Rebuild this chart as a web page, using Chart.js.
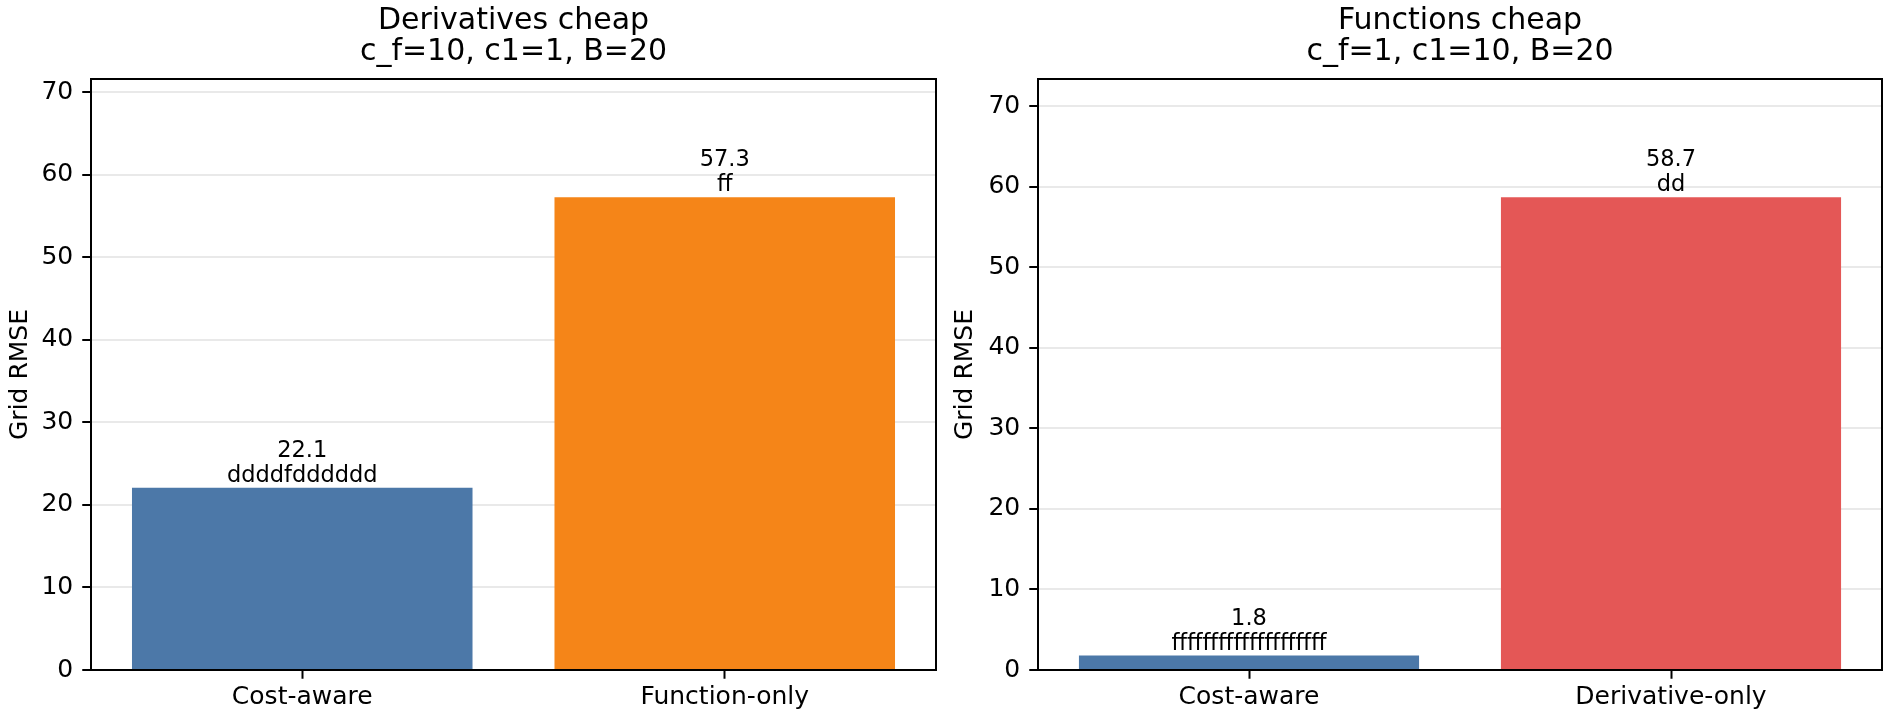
<!DOCTYPE html>
<html>
<head>
<meta charset="utf-8">
<script src="https://cdn.jsdelivr.net/npm/chart.js@4.4.1/dist/chart.umd.min.js"></script>
<style>
  html, body { margin: 0; padding: 0; background: #fff; }
  .box { position: absolute; top: 0; width: 945px; height: 720px; }
</style>
</head>
<body>
<div class="box" style="left:0"><canvas id="chartLeft"></canvas></div>
<div class="box" style="left:945px"><canvas id="chartRight"></canvas></div>
<script>
// Dados dos dois painéis
const leftCats = ['Cost-aware', 'Function-only'];
const leftVals = [22.1, 57.3];
const leftTags = ['ddddfdddddd', 'ff'];
const leftColors = ['#4c78a8', '#f58518'];
const leftTitle = ['Derivatives cheap', 'c_f=10, c1=1, B=20'];

const rightCats = ['Cost-aware', 'Derivative-only'];
const rightVals = [1.8, 58.7];
const rightTags = ['ffffffffffffffffffff', 'dd'];
const rightColors = ['#4c78a8', '#e45756'];
const rightTitle = ['Functions cheap', 'c_f=1, c1=10, B=20'];

Chart.defaults.font.family = '"DejaVu Sans", sans-serif';
Chart.defaults.color = '#000';

// Rótulos acima das barras (valor + sequência)
const barLabels = {
  id: 'barLabels',
  afterDatasetsDraw(chart, args, opts) {
    const ctx = chart.ctx;
    const meta = chart.getDatasetMeta(0);
    ctx.save();
    ctx.font = '22.5px "DejaVu Sans"';
    ctx.fillStyle = '#000';
    ctx.textAlign = 'center';
    ctx.textBaseline = 'alphabetic';
    meta.data.forEach((bar, i) => {
      const v = chart.data.datasets[0].data[i];
      ctx.fillText(v.toFixed(1), bar.x, bar.y - 31);
      ctx.fillText(opts.tags[i], bar.x, bar.y - 6);
    });
    ctx.restore();
  }
};

// Moldura do eixo (spines)
const frame = {
  id: 'frame',
  afterDraw(chart) {
    const a = chart.chartArea;
    const ctx = chart.ctx;
    ctx.save();
    ctx.strokeStyle = '#000';
    ctx.lineWidth = 2;
    ctx.strokeRect(a.left, a.top, a.right - a.left, a.bottom - a.top);
    ctx.restore();
  }
};

function makeChart(id, cats, vals, tags, colors, title, yWidth, padRight) {
  const ctx = document.getElementById(id).getContext('2d');
  return new Chart(ctx, {
    type: 'bar',
    data: {
      labels: cats,
      datasets: [{
        data: vals,
        backgroundColor: colors,
        borderWidth: 0,
        categoryPercentage: 1,
        barPercentage: 0.806
      }]
    },
    options: {
      responsive: true,
      maintainAspectRatio: false,
      devicePixelRatio: 1,
      animation: false,
      layout: { padding: { left: 0, right: padRight, top: 0, bottom: 0 } },
      plugins: {
        legend: { display: false },
        tooltip: { enabled: false },
        title: {
          display: true,
          text: title,
          fullSize: false,
          color: '#000',
          font: { size: 30, weight: 'normal', lineHeight: '31px' },
          padding: { top: 5.5, bottom: 11.5 }
        },
        barLabels: { tags: tags }
      },
      scales: {
        x: {
          offset: true,
          grid: {
            display: true,
            offset: false,
            drawOnChartArea: false,
            drawTicks: true,
            tickLength: 8.75,
            tickWidth: 2,
            tickColor: '#000'
          },
          border: { display: false },
          ticks: { font: { size: 25 }, padding: 4, color: '#000', maxRotation: 0 },
          afterFit: s => { s.height = 50; }
        },
        y: {
          min: 0,
          max: Math.max(...vals) * 1.25,
          z: 1,
          grid: {
            color: 'rgba(176,176,176,0.28)',
            lineWidth: 2,
            tickLength: 8.75,
            tickWidth: 2,
            tickColor: '#000'
          },
          border: { display: false },
          ticks: { stepSize: 10, includeBounds: false, padding: 9, font: { size: 25 }, color: '#000' },
          title: {
            display: true,
            text: 'Grid RMSE',
            color: '#000',
            font: { size: 25 },
            padding: { top: 5, bottom: 0 }
          },
          afterFit: s => { s.width = yWidth; }
        }
      }
    },
    plugins: [barLabels, frame]
  });
}

makeChart('chartLeft', leftCats, leftVals, leftTags, leftColors, leftTitle, 91, 9);
makeChart('chartRight', rightCats, rightVals, rightTags, rightColors, rightTitle, 93, 8);
</script>
</body>
</html>
